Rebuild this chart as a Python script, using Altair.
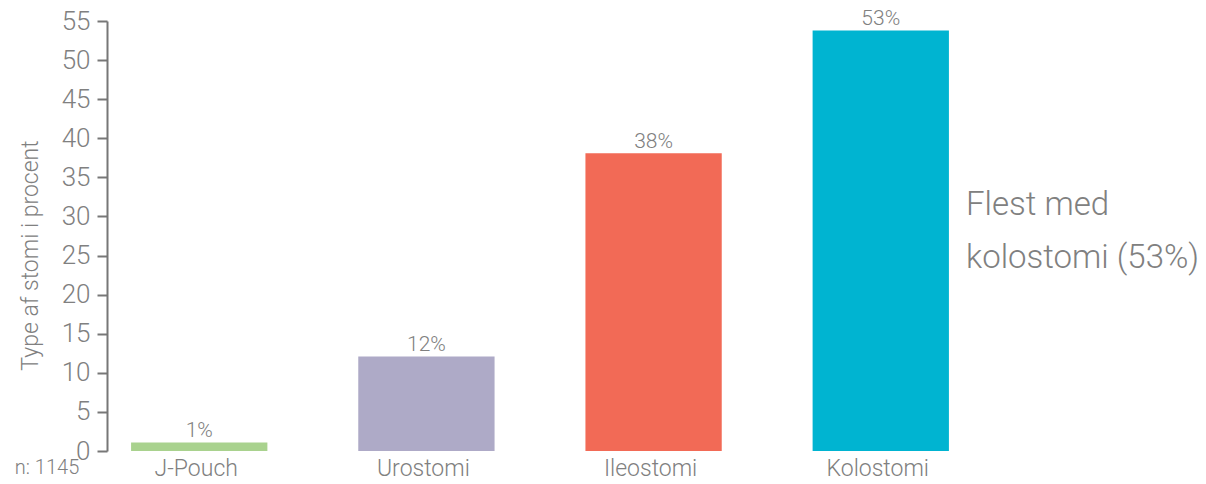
import altair as alt
import pandas as pd

categories = ["J-Pouch", "Urostomi", "Ileostomi", "Kolostomi"]
values = [1.1, 12.1, 38.1, 53.8]
value_labels = ["1%", "12%", "38%", "53%"]
colors = ["#a9d28e", "#aeaac7", "#f26a56", "#00b4d1"]
y_ticks = list(range(0, 56, 5))
y_title = "Type af stomi i procent"
sample_note = ["n: 1145"]
annotation_line1 = ["Flest med"]
annotation_line2 = ["kolostomi (53%)"]

df = pd.DataFrame({"type": categories, "pct": values, "label": value_labels})

FONT = "Roboto"
W = 300
GREY = "#808080"
AXIS = "#777777"

x = alt.X(
    "type:N", sort=categories, title=None,
    scale=alt.Scale(paddingInner=0.4, paddingOuter=0.106),
    axis=alt.Axis(domain=False, ticks=False, labelAngle=0, labelFontSize=23,
                  labelColor=GREY, labelPadding=6, labelFont=FONT,
                  labelFontWeight=W, labelOffset=-3),
)
y = alt.Y(
    "pct:Q", title=y_title,
    scale=alt.Scale(domain=[0, 55], nice=False, zero=True),
    axis=alt.Axis(values=y_ticks, tickCount=12, grid=False, domainColor=AXIS,
                  domainWidth=2, tickColor=AXIS, tickWidth=2, tickSize=10,
                  labelFontSize=26, labelColor=GREY, labelPadding=7,
                  labelFont=FONT, labelFontWeight=W, labelOverlap=False,
                  labelFlush=False, titleFont=FONT, titleFontSize=23,
                  titleColor=GREY, titleFontWeight=W, titleX=-77, titleY=234,
                  titleAngle=270, titleAlign="center", titleBaseline="middle"),
)

base = alt.Chart(df).encode(x=x, y=y)
bars = base.mark_bar().encode(
    color=alt.Color("type:N", scale=alt.Scale(domain=categories, range=colors),
                    legend=None),
)
labels = base.mark_text(dy=-11, baseline="middle", fontSize=21, color=GREY,
                        font=FONT, fontWeight=W).encode(text="label:N")

note = alt.Chart(pd.DataFrame({"t": sample_note})).mark_text(
    align="center", baseline="middle", fontSize=20, color=GREY, font=FONT,
    fontWeight=W
).encode(text="t:N", x=alt.value(-60), y=alt.value(447))

ann1 = alt.Chart(pd.DataFrame({"t": annotation_line1})).mark_text(
    align="left", baseline="middle", fontSize=33, color=GREY, font=FONT,
    fontWeight=W
).encode(text="t:N", x=alt.value(859), y=alt.value(184))

ann2 = alt.Chart(pd.DataFrame({"t": annotation_line2})).mark_text(
    align="left", baseline="middle", fontSize=33, color=GREY, font=FONT,
    fontWeight=W
).encode(text="t:N", x=alt.value(859), y=alt.value(237))

chart = alt.layer(bars, labels, note, ann1, ann2).properties(
    width=866, height=430,
    autosize=alt.AutoSizeParams(type="none"),
    padding={"left": 99, "top": 13, "right": 225, "bottom": 29},
).configure_view(stroke=None)

chart.save("out.html", embed_options={"renderer": "svg", "actions": False})
